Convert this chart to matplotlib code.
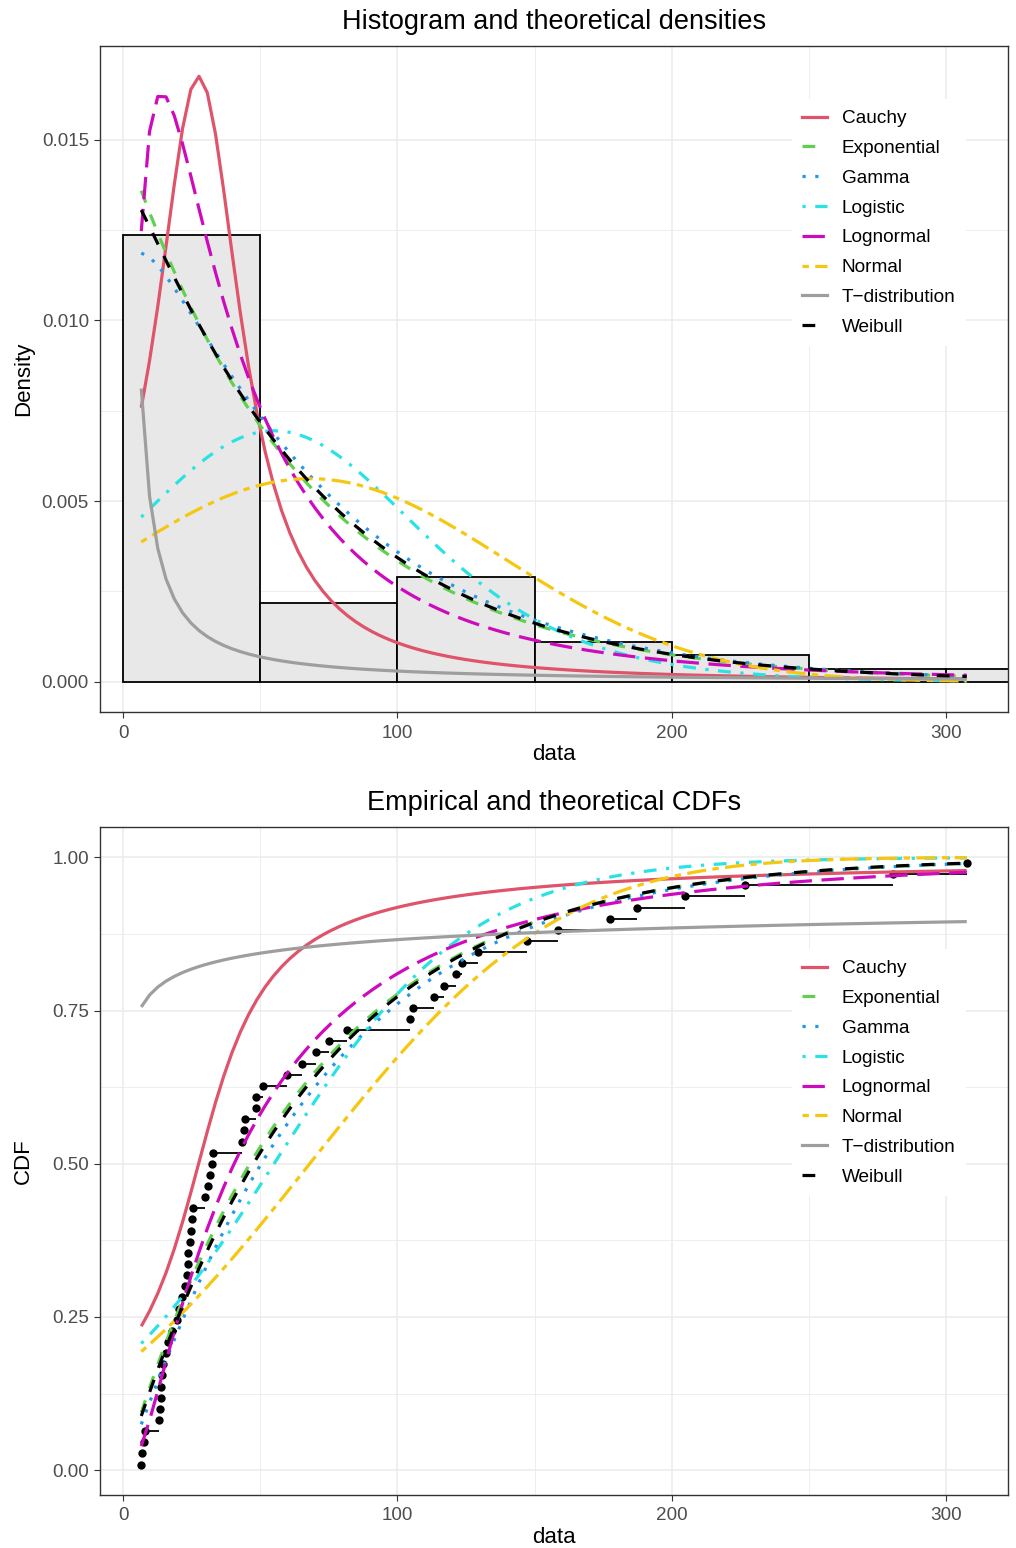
import math
import numpy as np
import matplotlib
matplotlib.use("Agg")
import matplotlib.pyplot as plt
from matplotlib.lines import Line2D

data = [6.6, 6.9, 7.6, 8.0, 13.1, 13.5, 13.7, 13.7, 14.1, 14.7,
        15.7, 16.5, 17.7, 19.5, 20.5, 21.4, 22.6, 23.2, 23.6, 23.8,
        24.2, 24.8, 25.0, 25.4, 29.9, 31.1, 31.7, 32.3, 32.9, 43.5,
        44.2, 44.4, 48.5, 48.5, 51.1, 59.9, 65.1, 70.2, 75.0, 81.7,
        104.7, 105.8, 113.2, 116.9, 121.3, 123.6, 129.5, 147.3, 158.4, 177.4,
        187.4, 204.8, 226.8, 280.8, 307.6]
bin_edges = [0, 50, 100, 150, 200, 250, 300, 350]

dist_names = ["Cauchy", "Exponential", "Gamma", "Logistic", "Lognormal",
              "Normal", "T\u2212distribution", "Weibull"]
dist_colors = ["#DF536B", "#61D04F", "#2297E6", "#28E2E5", "#CD0BBC",
               "#F5C710", "#9E9E9E", "black"]
dist_dashes = [None, (4, 4), (1, 3), (1, 3, 4, 3), (7, 3), (2, 2, 6, 2), None, (4, 4)]

# fitted parameters, estimated from the drawn curves
cauchy_loc, cauchy_scale = 27.5, 19.0
exp_rate = 0.015
gamma_shape, gamma_rate = 1.1, 0.0157
logis_loc, logis_scale = 55.0, 36.0
lnorm_mu, lnorm_sigma = 3.70, 1.03
norm_mu, norm_sd = 68.0, 71.0
t_df = 0.22
weib_shape, weib_scale = 1.02, 68.0

erf = np.vectorize(math.erf)


def gamma_pdf(x):
    return gamma_rate ** gamma_shape * x ** (gamma_shape - 1) * np.exp(-gamma_rate * x) / math.gamma(gamma_shape)


def t_pdf(x):
    c = math.gamma((t_df + 1) / 2) / (math.sqrt(t_df * math.pi) * math.gamma(t_df / 2))
    return c * (1 + x ** 2 / t_df) ** (-(t_df + 1) / 2)


def numeric_cdf(pdf, x, start_value):
    fine = np.linspace(0, x.max(), 400001)
    dens = pdf(fine)
    cum = np.concatenate([[0], np.cumsum((dens[1:] + dens[:-1]) / 2 * np.diff(fine))])
    return start_value + np.interp(x, fine, cum)


def densities(x):
    z = (x - logis_loc) / logis_scale
    return [
        1 / (math.pi * cauchy_scale * (1 + ((x - cauchy_loc) / cauchy_scale) ** 2)),
        exp_rate * np.exp(-exp_rate * x),
        gamma_pdf(x),
        np.exp(-z) / (logis_scale * (1 + np.exp(-z)) ** 2),
        np.exp(-(np.log(x) - lnorm_mu) ** 2 / (2 * lnorm_sigma ** 2)) / (x * lnorm_sigma * math.sqrt(2 * math.pi)),
        np.exp(-(x - norm_mu) ** 2 / (2 * norm_sd ** 2)) / (norm_sd * math.sqrt(2 * math.pi)),
        t_pdf(x),
        (weib_shape / weib_scale) * (x / weib_scale) ** (weib_shape - 1) * np.exp(-(x / weib_scale) ** weib_shape),
    ]


def cdfs(x):
    return [
        0.5 + np.arctan((x - cauchy_loc) / cauchy_scale) / math.pi,
        1 - np.exp(-exp_rate * x),
        numeric_cdf(gamma_pdf, x, 0.0),
        1 / (1 + np.exp(-(x - logis_loc) / logis_scale)),
        0.5 * (1 + erf((np.log(x) - lnorm_mu) / (lnorm_sigma * math.sqrt(2)))),
        0.5 * (1 + erf((x - norm_mu) / (norm_sd * math.sqrt(2)))),
        numeric_cdf(t_pdf, x, 0.5),
        1 - np.exp(-(x / weib_scale) ** weib_shape),
    ]


plt.rcParams["font.family"] = ["Liberation Sans", "DejaVu Sans"]

sorted_data = np.sort(np.array(data))
n = len(sorted_data)
xs = np.linspace(sorted_data[0], sorted_data[-1], 101)
x_rng = sorted_data[-1] - sorted_data[0]
xlim = (sorted_data[0] - 0.05 * x_rng, sorted_data[-1] + 0.05 * x_rng)

fig = plt.figure(figsize=(10.16, 15.48), dpi=100)
ax1 = fig.add_axes([100 / 1016, 1 - 712 / 1548, 908 / 1016, 666 / 1548])
ax2 = fig.add_axes([100 / 1016, 1 - 1495 / 1548, 908 / 1016, 668 / 1548])


def style(ax, yticks, ylabels, yminor):
    ax.set_xlim(xlim)
    ax.set_xticks([0, 100, 200, 300])
    ax.set_xticks([50, 150, 250], minor=True)
    ax.set_yticks(yticks)
    ax.set_yticklabels(ylabels)
    ax.set_yticks(yminor, minor=True)
    ax.grid(True, which="major", color="#EBEBEB", lw=1.1)
    ax.grid(True, which="minor", color="#EBEBEB", lw=0.6)
    ax.set_axisbelow(True)
    ax.tick_params(which="major", length=4, width=0.8, color="#333333",
                   labelsize=13.6, labelcolor="#4D4D4D", pad=4)
    ax.tick_params(axis="x", which="major", pad=5)
    ax.tick_params(which="minor", length=0)
    for sp in ax.spines.values():
        sp.set_color("#333333")
        sp.set_linewidth(1.0)
    ax.set_xlabel("data", fontsize=16, labelpad=2)
    ax.yaxis.set_label_coords(-0.073, 0.5)


def add_legend(ax, handles, y_anchor):
    return ax.legend(handles=handles, loc="upper left", bbox_to_anchor=(0.7515, y_anchor),
                     fontsize=13.7, frameon=True, fancybox=False, edgecolor="none",
                     facecolor="white", framealpha=1, handlelength=1.3,
                     handletextpad=0.78, labelspacing=0.655, borderpad=0.55)


def plot_curve(ax, x, y, color, dashes):
    line, = ax.plot(x, y, color=color, lw=2.3, solid_capstyle="butt", dash_capstyle="butt")
    if dashes is not None:
        line.set_dashes(dashes)
    return line


# --- histogram and densities
ax1.hist(sorted_data, bins=bin_edges, density=True, color="#E8E8E8",
         edgecolor="black", linewidth=1.3, zorder=2)
dens = densities(xs)
handles = []
for name, color, dashes, y in zip(dist_names, dist_colors, dist_dashes, dens):
    plot_curve(ax1, xs, y, color, dashes)
    handles.append(Line2D([], [], color=color, lw=2.3, dash_capstyle="butt",
                          linestyle=(0, dashes) if dashes else "-", label=name))
ytop = max(np.max(d) for d in dens)
ax1.set_ylim(-0.05 * ytop, 1.05 * ytop)
style(ax1, [0, 0.005, 0.010, 0.015], ["0.000", "0.005", "0.010", "0.015"],
      [0.0025, 0.0075, 0.0125])
ax1.set_ylabel("Density", fontsize=16)
ax1.set_title("Histogram and theoretical densities", fontsize=19.5, pad=12)
add_legend(ax1, handles, 0.934)

# --- empirical and theoretical CDFs
probs = (np.arange(1, n + 1) - 0.5) / n
ax2.hlines(probs[:-1], sorted_data[:-1], sorted_data[1:], color="black", lw=1.3, zorder=2)
ax2.scatter(sorted_data, probs, s=36, color="black", zorder=2, linewidths=0)
for name, color, dashes, y in zip(dist_names, dist_colors, dist_dashes, cdfs(xs)):
    plot_curve(ax2, xs, y, color, dashes)
ax2.set_ylim(probs[0] - 0.05 * (1 - probs[0]), 1 + 0.05 * (1 - probs[0]))
style(ax2, [0, 0.25, 0.5, 0.75, 1.0], ["0.00", "0.25", "0.50", "0.75", "1.00"],
      [0.125, 0.375, 0.625, 0.875])
ax2.set_ylabel("CDF", fontsize=16)
ax2.set_title("Empirical and theoretical CDFs", fontsize=19.5, pad=12)
add_legend(ax2, handles, 0.831)

fig.savefig("out.png", dpi=100)
